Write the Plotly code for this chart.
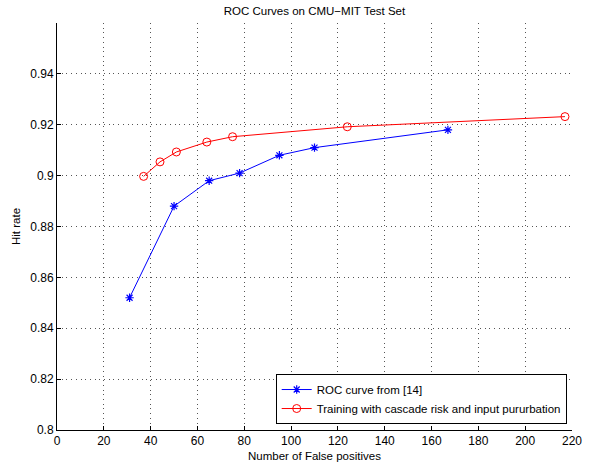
import plotly.graph_objects as go

# Data
fp_roc14 = [31, 50, 65, 78, 95, 110, 167]
hit_roc14 = [0.852, 0.888, 0.898, 0.901, 0.908, 0.911, 0.918]

fp_cascade = [37, 44, 51, 64, 75, 124, 217]
hit_cascade = [0.8997, 0.9054, 0.9093, 0.9132, 0.9153, 0.9192, 0.9232]

x_ticks = [0, 20, 40, 60, 80, 100, 120, 140, 160, 180, 200, 220]
y_ticks = [0.8, 0.82, 0.84, 0.86, 0.88, 0.9, 0.92, 0.94]
y_tick_text = ["0.8", "0.82", "0.84", "0.86", "0.88", "0.9", "0.92", "0.94"]

FONT = "Liberation Sans, Arial, Helvetica, sans-serif"

fig = go.Figure()
fig.add_trace(go.Scatter(
    x=fp_roc14, y=hit_roc14, mode="lines+markers",
    name="ROC curve from [14]",
    line=dict(color="#0000ff", width=1),
    marker=dict(symbol="asterisk-open", size=7, color="#0000ff",
                line=dict(color="#0000ff", width=1.2)),
))
fig.add_trace(go.Scatter(
    x=fp_cascade, y=hit_cascade, mode="lines+markers",
    name="Training with cascade risk and input pururbation",
    line=dict(color="#ff0000", width=1),
    marker=dict(symbol="circle-open", size=8, color="#ff0000",
                line=dict(color="#ff0000", width=1)),
))

axis_common = dict(
    showline=True, linecolor="black", linewidth=1, mirror=False,
    ticks="inside", ticklen=4, tickcolor="black", tickwidth=1,
    showgrid=True, gridcolor="#555555", gridwidth=1, griddash="1px,3.7px",
    zeroline=False, automargin=False,
    tickfont=dict(family=FONT, size=12, color="black"),
)

fig.update_layout(
    width=590, height=462,
    margin=dict(l=57, r=18, t=23, b=32),
    paper_bgcolor="white", plot_bgcolor="white",
    font=dict(family=FONT, size=11.5, color="black"),
    title=dict(text="ROC Curves on CMU\u2212MIT Test Set", x=0.5, xref="paper",
               y=1 - 11 / 462, yref="container", yanchor="middle",
               xanchor="center", font=dict(family=FONT, size=11.5, color="black")),
    xaxis=dict(range=[0, 220], tickvals=x_ticks,
               title=dict(text="Number of False positives", standoff=4,
                          font=dict(family=FONT, size=11.5)),
               **axis_common),
    yaxis=dict(range=[0.8, 0.96], tickvals=y_ticks, ticktext=y_tick_text,
               title=dict(text="Hit rate", standoff=7,
                          font=dict(family=FONT, size=11.5)),
               **axis_common),
    legend=dict(x=0.9897, y=0.0147, xanchor="right", yanchor="bottom",
                bgcolor="white", bordercolor="black", borderwidth=1,
                font=dict(family=FONT, size=11.5, color="black"),
                tracegroupgap=0, itemwidth=30),
    showlegend=True,
)

fig.write_html("out.html")
